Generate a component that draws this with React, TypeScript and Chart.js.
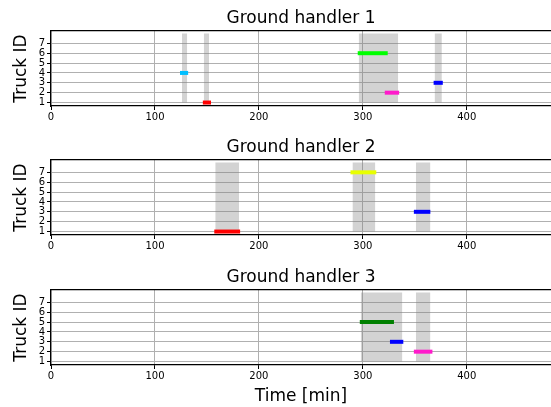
import React, { useEffect, useRef } from 'react';
import { Chart, registerables } from 'chart.js';

Chart.register(...registerables);
Chart.defaults.font.family = '"DejaVu Sans", sans-serif';

const xTicks = [0, 100, 200, 300, 400];
const yTicks = [1, 2, 3, 4, 5, 6, 7];
const xMax = 481;
const yMin = 0.65;
const yMax = 8.25;
const spanLow = 1;
const spanHigh = 8;

const panelTitles = ['Ground handler 1', 'Ground handler 2', 'Ground handler 3'];

const gh1Trucks = [4, 1, 6, 2, 3];
const gh1Start = [126, 148, 297, 323, 370];
const gh1End = [130, 152, 322, 333, 375];
const gh1Colors = ['#00bfff', '#ff0000', '#00ff00', '#ff1acb', '#0000ff'];
const gh1SpanStart = [126, 147, 296, 369];
const gh1SpanEnd = [131, 152, 334, 376];

const gh2Trucks = [1, 7, 3];
const gh2Start = [159, 290, 351];
const gh2End = [180, 311, 363];
const gh2Colors = ['#ff0000', '#e8ff00', '#0000ff'];
const gh2SpanStart = [158, 290, 351];
const gh2SpanEnd = [181, 312, 365];

const gh3Trucks = [5, 3, 2];
const gh3Start = [299, 328, 351];
const gh3End = [328, 337, 365];
const gh3Colors = ['#008000', '#0000ff', '#ff1acb'];
const gh3SpanStart = [298, 351];
const gh3SpanEnd = [338, 365];

type PanelDef = {
  title: string;
  trucks: number[];
  starts: number[];
  ends: number[];
  colors: string[];
  spanStarts: number[];
  spanEnds: number[];
  top: number;
  height: number;
  bottomAxis: number;
  xLabel?: string;
};

const panels: PanelDef[] = [
  { title: panelTitles[0], trucks: gh1Trucks, starts: gh1Start, ends: gh1End, colors: gh1Colors, spanStarts: gh1SpanStart, spanEnds: gh1SpanEnd, top: 0, height: 129, bottomAxis: 23 },
  { title: panelTitles[1], trucks: gh2Trucks, starts: gh2Start, ends: gh2End, colors: gh2Colors, spanStarts: gh2SpanStart, spanEnds: gh2SpanEnd, top: 129, height: 130, bottomAxis: 24 },
  { title: panelTitles[2], trucks: gh3Trucks, starts: gh3Start, ends: gh3End, colors: gh3Colors, spanStarts: gh3SpanStart, spanEnds: gh3SpanEnd, top: 259, height: 148, bottomAxis: 42, xLabel: 'Time [min]' },
];

function Panel({ p }: { p: PanelDef }) {
  const ref = useRef<HTMLCanvasElement | null>(null);
  useEffect(() => {
    if (!ref.current) return;
    const segs = p.trucks.map((y, i) => ({
      type: 'line' as const,
      data: [{ x: p.starts[i], y }, { x: p.ends[i], y }],
      borderColor: p.colors[i],
      borderWidth: 4,
      borderCapStyle: 'square' as const,
      pointRadius: 0,
      fill: false,
    }));
    const spans = p.spanStarts.map((s, i) => ({
      type: 'line' as const,
      data: [{ x: s, y: spanHigh }, { x: p.spanEnds[i], y: spanHigh }],
      borderColor: 'rgba(0,0,0,0)',
      borderWidth: 0,
      backgroundColor: 'rgba(128,128,128,0.35)',
      pointRadius: 0,
      fill: { value: spanLow },
    }));
    const chart = new Chart(ref.current, {
      type: 'line',
      data: { datasets: [...segs, ...spans] as any },
      options: {
        animation: false,
        responsive: false,
        maintainAspectRatio: false,
        layout: { padding: 0 },
        plugins: { legend: { display: false }, tooltip: { enabled: false }, title: { display: false } },
        scales: {
          x: {
            type: 'linear',
            position: 'bottom',
            min: 0,
            max: xMax,
            afterBuildTicks: (s: any) => { s.ticks = xTicks.map((v) => ({ value: v })); },
            afterFit: (s: any) => { s.height = p.bottomAxis; },
            grid: { color: '#b0b0b0', lineWidth: 1, tickLength: 4, tickColor: '#000', drawTicks: true },
            border: { color: '#000', width: 1.2 },
            ticks: { color: '#000', font: { size: 10 }, padding: 1, maxRotation: 0, autoSkip: false },
            title: p.xLabel
              ? { display: true, text: p.xLabel, color: '#000', font: { size: 17 }, padding: { top: 0, bottom: 0 } }
              : { display: false },
          },
          xTop: {
            type: 'linear',
            position: 'top',
            min: 0,
            max: xMax,
            afterFit: (s: any) => { s.height = 31; },
            grid: { drawOnChartArea: false, drawTicks: false },
            border: { color: '#000', width: 1.2 },
            ticks: { display: false },
            title: { display: true, text: p.title, color: '#000', font: { size: 17 }, padding: { top: 8, bottom: 0 } },
          },
          y: {
            type: 'linear',
            position: 'left',
            min: yMin,
            max: yMax,
            afterBuildTicks: (s: any) => { s.ticks = yTicks.map((v) => ({ value: v })); },
            afterFit: (s: any) => { s.width = 51; },
            grid: { color: '#b0b0b0', lineWidth: 1, tickLength: 4, tickColor: '#000' },
            border: { color: '#000', width: 1.2 },
            ticks: { color: '#000', font: { size: 10 }, padding: 2, autoSkip: false },
            title: { display: true, text: 'Truck ID', color: '#000', font: { size: 17 }, padding: { top: 11, bottom: 0 } },
          },
        },
      } as any,
    });
    return () => chart.destroy();
  }, [p]);
  return (
    <canvas
      ref={ref}
      width={551}
      height={p.height}
      style={{ position: 'absolute', left: 0, top: p.top, width: 551, height: p.height }}
    />
  );
}

export default function App() {
  return (
    <div style={{ position: 'fixed', left: 0, top: 0, width: 551, height: 407, background: '#fff', overflow: 'hidden' }}>
      {panels.map((p, i) => (
        <Panel key={i} p={p} />
      ))}
    </div>
  );
}
